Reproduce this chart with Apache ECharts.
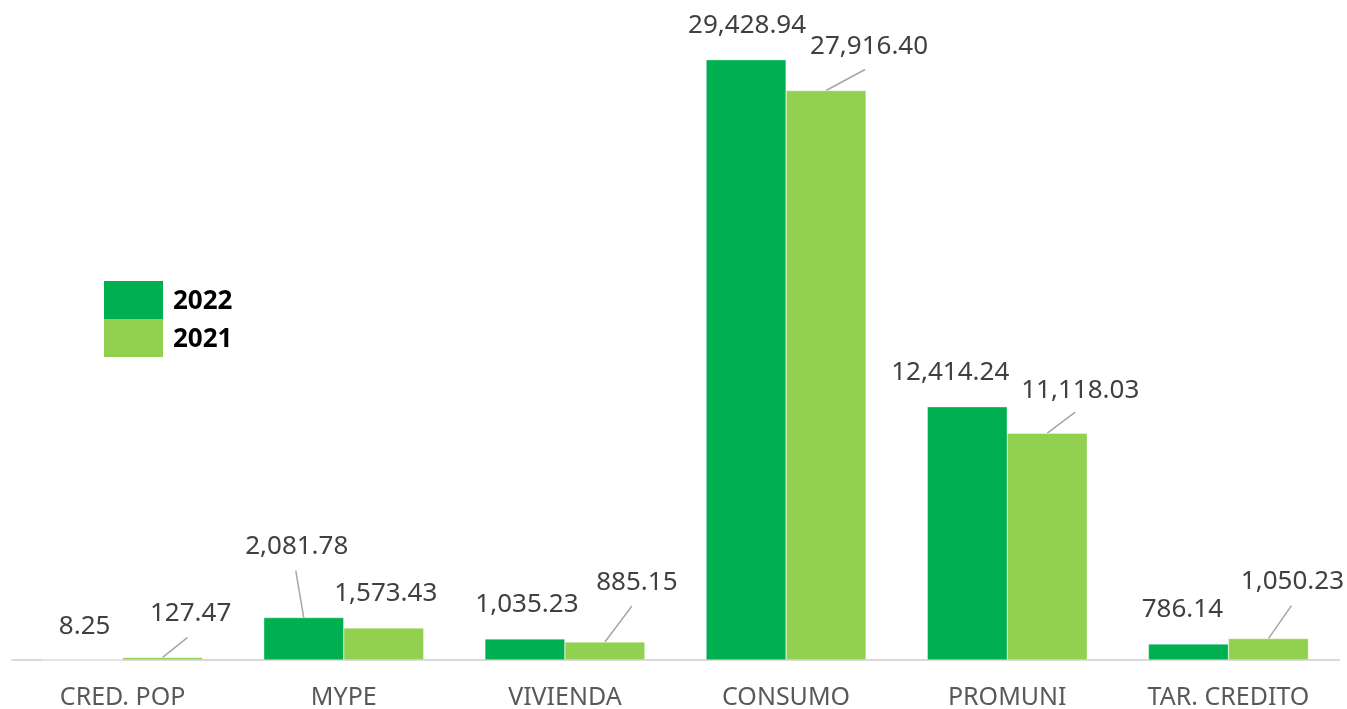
<!DOCTYPE html>
<html>
<head>
<meta charset="utf-8">
<script src="https://cdn.jsdelivr.net/npm/echarts@6/dist/echarts.min.js"></script>
<style>
html, body { margin: 0; padding: 0; background: #fff; }
#chart { width: 1347px; height: 709px; }
</style>
</head>
<body>
<div id="chart"></div>
<script>
// categorias y valores
var categorias = ['CRED. POP', 'MYPE', 'VIVIENDA', 'CONSUMO', 'PROMUNI', 'TAR. CREDITO'];
var valores2022 = [8.25, 2081.78, 1035.23, 29428.94, 12414.24, 786.14];
var valores2021 = [127.47, 1573.43, 885.15, 27916.40, 11118.03, 1050.23];

// desplazamiento de etiquetas (como en el original)
var desp2022 = [[2, -15], [-7, -53], [2, -16], [1, -16], [-17, -16], [-6, -16]];
var desp2021 = [[28, -26], [2, -16], [32, -41], [43, -26], [33, -25], [24, -39]];
// lineas guia: extremo relativo a la cima de la barra (null = sin linea)
var guia2022 = [null, [-8, -47], null, null, null, null];
var guia2021 = [[25, -20], null, [27, -36], [39, -21], [28, -21], [23, -33]];

var fuente = '"Noto Sans", "Open Sans", sans-serif';
var anchoBarra = 80;

function fmt(v) {
    return v.toLocaleString('en-US', {minimumFractionDigits: 2, maximumFractionDigits: 2});
}

function serie(nombre, valores, color, desp) {
    return {
        name: nombre,
        type: 'bar',
        barWidth: anchoBarra,
        barGap: '0%',
        itemStyle: {color: color, borderColor: 'rgba(255,255,255,0.7)', borderWidth: 0.5},
        label: {
            show: true,
            position: 'top',
            distance: 5,
            color: '#404040',
            fontSize: 26,
            fontFamily: fuente,
            formatter: function (p) { return fmt(p.value); }
        },
        labelLayout: function (p) {
            var d = desp[p.dataIndex];
            return {dx: d[0], dy: d[1]};
        },
        data: valores
    };
}

var chart = echarts.init(document.getElementById('chart'));
var option = {
    animation: false,
    legend: {
        orient: 'vertical',
        left: 104,
        top: 281,
        padding: 0,
        itemWidth: 59,
        itemHeight: 38,
        itemGap: 0,
        icon: 'rect',
        itemStyle: {borderWidth: 0},
        formatter: '{a|{name}}',
        textStyle: {
            rich: {
                a: {
                    fontSize: 26,
                    fontWeight: 'bold',
                    color: '#000000',
                    fontFamily: fuente,
                    padding: [4, 0, 0, 5]
                }
            }
        },
        data: ['2022', '2021']
    },
    grid: {left: 12, width: 1327, top: 48, bottom: 49, outerBoundsMode: 'none', containLabel: false},
    xAxis: {
        type: 'category',
        data: categorias,
        axisLine: {lineStyle: {color: '#D9D9D9', width: 2}},
        axisTick: {show: false},
        axisLabel: {color: '#595959', fontSize: 25, fontFamily: fuente, margin: 25}
    },
    yAxis: {
        type: 'value',
        min: 0,
        max: 30000,
        show: false,
        splitLine: {show: false}
    },
    series: [
        serie('2022', valores2022, '#00B050', desp2022),
        serie('2021', valores2021, '#92D050', desp2021)
    ]
};
chart.setOption(option);

// lineas guia desde la cima de cada barra hacia su etiqueta
var lineas = [];
[[valores2022, guia2022, -1], [valores2021, guia2021, 1]].forEach(function (s) {
    s[0].forEach(function (v, i) {
        var g = s[1][i];
        if (!g) return;
        var p = chart.convertToPixel({gridIndex: 0}, [i, v]);
        var x = p[0] + s[2] * anchoBarra / 2;
        lineas.push({
            type: 'line',
            silent: true,
            shape: {x1: x, y1: p[1], x2: x + g[0], y2: p[1] + g[1]},
            style: {stroke: '#A6A6A6', lineWidth: 1.5}
        });
    });
});
chart.setOption({graphic: {elements: lineas}});
</script>
</body>
</html>
